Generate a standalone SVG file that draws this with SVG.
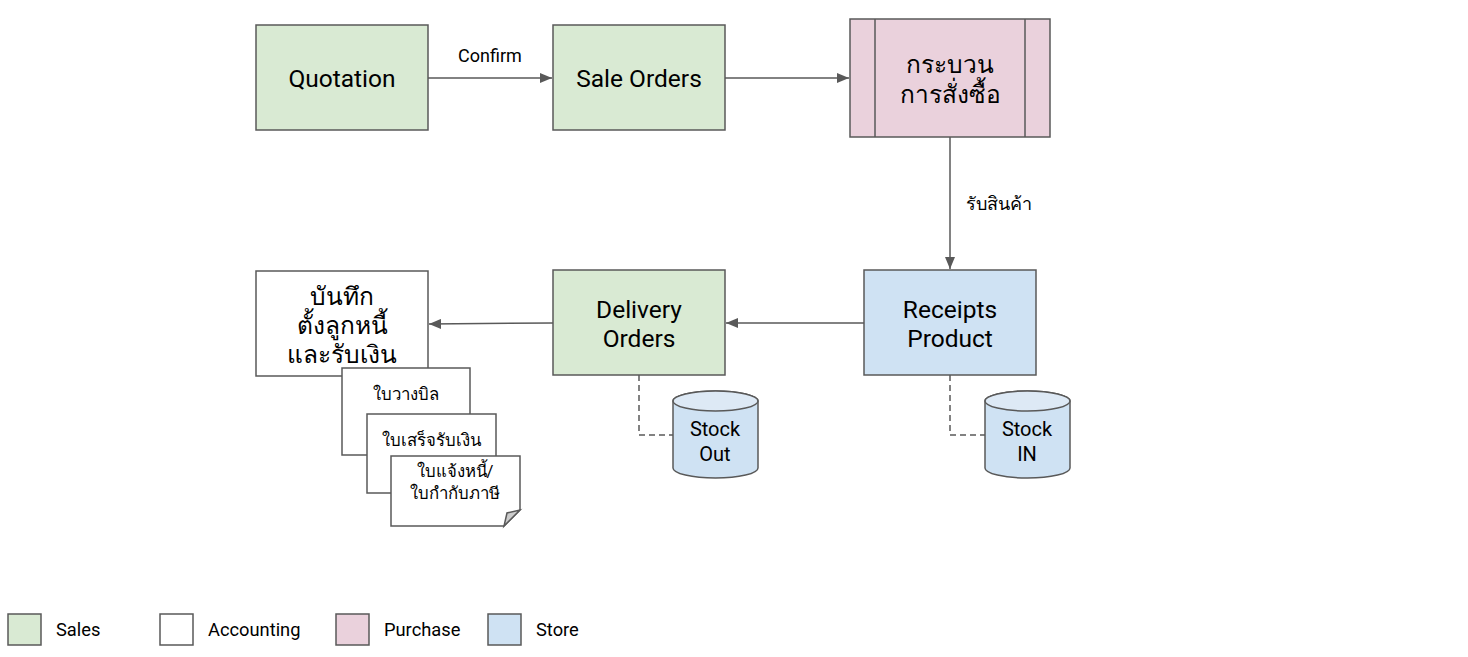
<svg xmlns="http://www.w3.org/2000/svg" width="1468" height="657" viewBox="0 0 1468 657">
<style>
.n{stroke:#595959;stroke-width:1.5}
.g{fill:#d9ead3}.w{fill:#ffffff}.p{fill:#ead1dc}.b{fill:#cfe2f3}
text{font-family:Roboto,"Noto Sans","DejaVu Sans",sans-serif;fill:#000;text-anchor:middle}
.t{font-size:24.5px}.s{font-size:16.8px}.l{font-size:18.3px;text-anchor:start}.c{font-size:18px}
.e{stroke:#595959;stroke-width:1.5;fill:none}
.d{stroke:#595959;stroke-width:1.5;fill:none;stroke-dasharray:6,4}
</style>
<defs>
<marker id="a" viewBox="0 0 12 10" refX="12" refY="5" markerWidth="12" markerHeight="10" markerUnits="userSpaceOnUse" orient="auto">
<path d="M0,0 L12,5 L0,10 z" fill="#595959"/>
</marker>
</defs>
<g id="connectors">
<path class="e" d="M428,78 H552" marker-end="url(#a)"/>
<path class="e" d="M725,78 H849" marker-end="url(#a)"/>
<path class="e" d="M950,137 V269" marker-end="url(#a)"/>
<path class="e" d="M864,323 H726" marker-end="url(#a)"/>
<path class="e" d="M553,323 L429,324" marker-end="url(#a)"/>
<path class="d" d="M639,375 V435 H673"/>
<path class="d" d="M950,375 V435 H985"/>
<text class="c" x="490" y="62">Confirm</text>
<text class="c" x="999" y="210">รับสินค้า</text>
</g>
<g id="quotation"><rect class="n g" x="256" y="25" width="172" height="105"/><text class="t" x="342" y="87">Quotation</text></g>
<g id="sale-orders"><rect class="n g" x="553" y="25" width="172" height="105"/><text class="t" x="639" y="87">Sale Orders</text></g>
<g id="purchase-process"><rect class="n p" x="850" y="19" width="200" height="118"/><path class="e" d="M875,19 V137 M1025,19 V137"/><text class="t" x="950" y="73">กระบวน</text><text class="t" x="950" y="103">การสั่งซื้อ</text></g>
<g id="receipts-product"><rect class="n b" x="864" y="270" width="172" height="105"/><text class="t" x="950" y="318">Receipts</text><text class="t" x="950" y="347">Product</text></g>
<g id="delivery-orders"><rect class="n g" x="553" y="270" width="172" height="105"/><text class="t" x="639" y="318">Delivery</text><text class="t" x="639" y="347">Orders</text></g>
<g id="accounting-record"><rect class="n w" x="256" y="271" width="172" height="105"/><text class="t" x="342" y="305">บันทึก</text><text class="t" x="342" y="334">ตั้งลูกหนี้</text><text class="t" x="342" y="363">และรับเงิน</text></g>
<g id="doc-billing"><rect class="n w" x="342" y="368" width="128" height="87"/><text class="s" x="406" y="400">ใบวางบิล</text></g>
<g id="doc-receipt"><rect class="n w" x="367" y="414" width="129" height="79"/><text class="s" x="431" y="446">ใบเสร็จรับเงิน</text></g>
<g id="doc-invoice"><path class="n w" d="M391,456 H520 V510 L504,526 H391 Z"/><path class="n" fill="#cccccc" d="M520,510 L504,526 L507,513 Z"/><text class="s" x="455" y="477">ใบแจ้งหนี้/</text><text class="s" x="455" y="499">ใบกำกับภาษี</text></g>
<g id="stock-out"><path class="n b" d="M673,401 V468 A42.5,10 0 0 0 758,468 V401 A42.5,10 0 0 0 673,401 Z"/><ellipse class="n" fill="#dde9f5" cx="715.5" cy="401" rx="42.5" ry="10"/><text class="t" x="715" y="436" style="font-size:20px">Stock</text><text class="t" x="715" y="461" style="font-size:20px">Out</text></g>
<g id="stock-in"><path class="n b" d="M985,401 V468 A42.5,10 0 0 0 1070,468 V401 A42.5,10 0 0 0 985,401 Z"/><ellipse class="n" fill="#dde9f5" cx="1027.5" cy="401" rx="42.5" ry="10"/><text class="t" x="1027" y="436" style="font-size:20px">Stock</text><text class="t" x="1027" y="461" style="font-size:20px">IN</text></g>
<g id="legend">
<rect class="n g" x="8" y="614" width="33" height="31"/><text class="l" x="56" y="636">Sales</text>
<rect class="n w" x="160" y="614" width="33" height="31"/><text class="l" x="208" y="636">Accounting</text>
<rect class="n p" x="336" y="614" width="33" height="31"/><text class="l" x="384" y="636">Purchase</text>
<rect class="n b" x="488" y="614" width="33" height="31"/><text class="l" x="536" y="636">Store</text>
</g>
</svg>
